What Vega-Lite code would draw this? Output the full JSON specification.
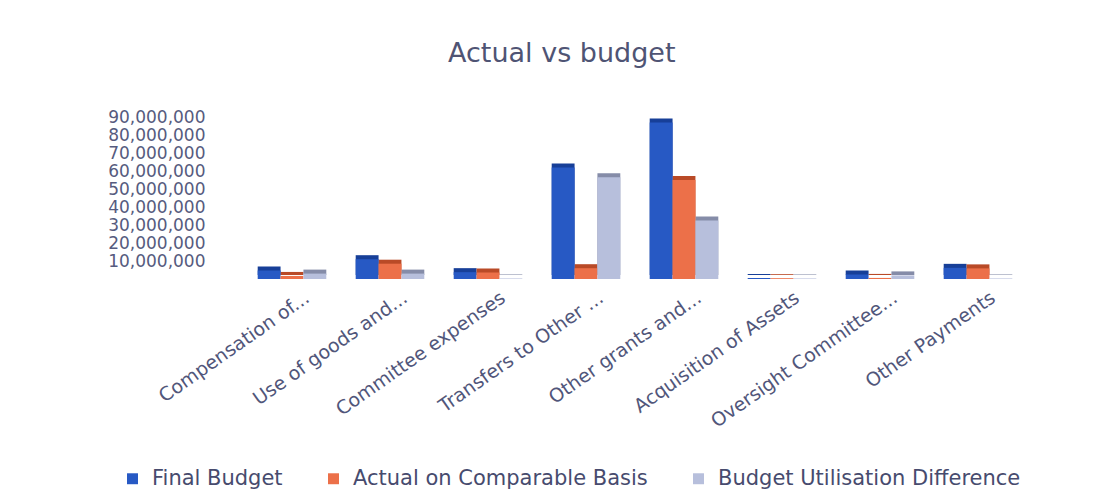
{
  "$schema": "https://vega.github.io/schema/vega-lite/v6.json",
  "width": 784,
  "height": 162,
  "autosize": {"type": "none"},
  "padding": {"left": 243, "top": 117, "right": 77, "bottom": 210},
  "background": "#ffffff",
  "title": {
    "text": "Actual vs budget",
    "font": "DejaVu Sans",
    "fontSize": 27,
    "fontWeight": "normal",
    "color": "#4f5474",
    "anchor": "start",
    "frame": "group",
    "dx": 205,
    "offset": 40
  },
  "config": {
    "view": {"stroke": null},
    "axis": {"domain": false, "ticks": false, "grid": false}
  },
  "data": {
    "values": [
      {"category": "Compensation of...", "series": "Final Budget", "value": 4700000},
      {"category": "Compensation of...", "series": "Actual on Comparable Basis", "value": 1700000},
      {"category": "Compensation of...", "series": "Budget Utilisation Difference", "value": 3000000},
      {"category": "Use of goods and...", "series": "Final Budget", "value": 11000000},
      {"category": "Use of goods and...", "series": "Actual on Comparable Basis", "value": 8500000},
      {"category": "Use of goods and...", "series": "Budget Utilisation Difference", "value": 3000000},
      {"category": "Committee expenses", "series": "Final Budget", "value": 3800000},
      {"category": "Committee expenses", "series": "Actual on Comparable Basis", "value": 3600000},
      {"category": "Committee expenses", "series": "Budget Utilisation Difference", "value": 300000},
      {"category": "Transfers to Other ...", "series": "Final Budget", "value": 62000000},
      {"category": "Transfers to Other ...", "series": "Actual on Comparable Basis", "value": 6000000},
      {"category": "Transfers to Other ...", "series": "Budget Utilisation Difference", "value": 56500000},
      {"category": "Other grants and...", "series": "Final Budget", "value": 87000000},
      {"category": "Other grants and...", "series": "Actual on Comparable Basis", "value": 55000000},
      {"category": "Other grants and...", "series": "Budget Utilisation Difference", "value": 32500000},
      {"category": "Acquisition of Assets", "series": "Final Budget", "value": 500000},
      {"category": "Acquisition of Assets", "series": "Actual on Comparable Basis", "value": 450000},
      {"category": "Acquisition of Assets", "series": "Budget Utilisation Difference", "value": 300000},
      {"category": "Oversight Committee...", "series": "Final Budget", "value": 2500000},
      {"category": "Oversight Committee...", "series": "Actual on Comparable Basis", "value": 600000},
      {"category": "Oversight Committee...", "series": "Budget Utilisation Difference", "value": 2000000},
      {"category": "Other Payments", "series": "Final Budget", "value": 6200000},
      {"category": "Other Payments", "series": "Actual on Comparable Basis", "value": 5900000},
      {"category": "Other Payments", "series": "Budget Utilisation Difference", "value": 300000}
    ]
  },
  "encoding": {
    "x": {
      "field": "category",
      "type": "nominal",
      "sort": null,
      "scale": {"paddingInner": 0.3, "paddingOuter": 0.15},
      "axis": {
        "title": null,
        "labelAngle": -35,
        "labelFont": "DejaVu Sans",
        "labelFontSize": 19,
        "labelColor": "#51567a",
        "labelPadding": 9,
        "labelOffset": 10,
        "labelLimit": 300
      }
    },
    "xOffset": {
      "field": "series",
      "type": "nominal",
      "sort": ["Final Budget", "Actual on Comparable Basis", "Budget Utilisation Difference"]
    },
    "y": {
      "field": "value",
      "type": "quantitative",
      "scale": {"domain": [0, 90000000], "nice": false},
      "axis": {
        "title": null,
        "values": [10000000, 20000000, 30000000, 40000000, 50000000, 60000000, 70000000, 80000000, 90000000],
        "format": ",d",
        "labelOverlap": false,
        "labelFont": "DejaVu Sans",
        "labelFontSize": 17,
        "labelColor": "#565b7e",
        "labelPadding": 38
      }
    }
  },
  "layer": [
    {
      "mark": {"type": "bar", "xOffset": 6, "yOffset": -4},
      "encoding": {
        "color": {
          "field": "series",
          "type": "nominal",
          "sort": ["Final Budget", "Actual on Comparable Basis", "Budget Utilisation Difference"],
          "scale": {"domain": ["Final Budget", "Actual on Comparable Basis", "Budget Utilisation Difference"], "range": ["#173f98", "#b94a27", "#858ca8"]},
          "legend": null
        }
      }
    },
    {
      "mark": {"type": "bar"},
      "encoding": {
        "color": {
          "field": "series",
          "type": "nominal",
          "sort": ["Final Budget", "Actual on Comparable Basis", "Budget Utilisation Difference"],
          "scale": {"domain": ["Final Budget", "Actual on Comparable Basis", "Budget Utilisation Difference"], "range": ["#2759c4", "#ec7049", "#b7bfdc"]},
          "legend": {
            "title": null,
            "orient": "none",
            "direction": "horizontal",
            "legendX": -121,
            "legendY": 351,
            "symbolType": "square",
            "symbolSize": 120,
            "symbolStrokeWidth": 0,
            "labelFont": "DejaVu Sans",
            "labelFontSize": 21,
            "labelColor": "#474b6e",
            "labelOffset": 9,
            "columnPadding": 40,
            "labelLimit": 400
          }
        }
      }
    }
  ],
  "resolve": {"scale": {"color": "independent"}}
}
